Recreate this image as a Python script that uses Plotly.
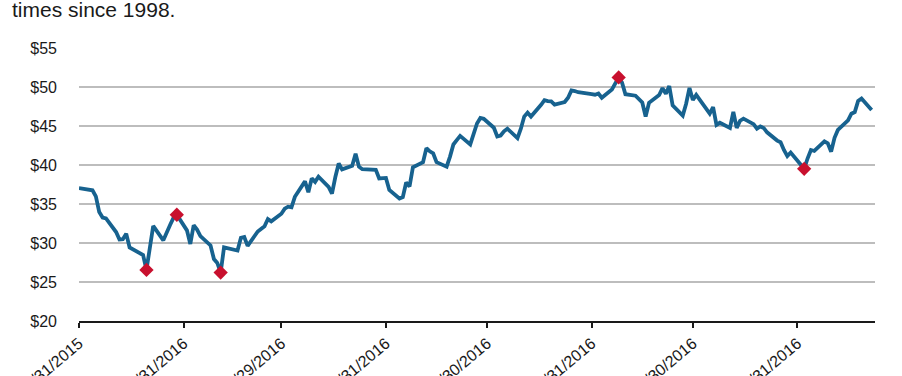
import plotly.graph_objects as go

dates = [
    "2015-12-31",
    "2016-01-04", "2016-01-05", "2016-01-06", "2016-01-07", "2016-01-08",
    "2016-01-11", "2016-01-12", "2016-01-13", "2016-01-14", "2016-01-15",
    "2016-01-19", "2016-01-20", "2016-01-21", "2016-01-22",
    "2016-01-25", "2016-01-26", "2016-01-27", "2016-01-28", "2016-01-29",
    "2016-02-01", "2016-02-02", "2016-02-03", "2016-02-04", "2016-02-05",
    "2016-02-08", "2016-02-09", "2016-02-10", "2016-02-11", "2016-02-12",
    "2016-02-16", "2016-02-17", "2016-02-18", "2016-02-19",
    "2016-02-22", "2016-02-23", "2016-02-24", "2016-02-25", "2016-02-26",
    "2016-02-29", "2016-03-01", "2016-03-02", "2016-03-03", "2016-03-04",
    "2016-03-07", "2016-03-08", "2016-03-09", "2016-03-10", "2016-03-11",
    "2016-03-14", "2016-03-15", "2016-03-16", "2016-03-17", "2016-03-18",
    "2016-03-21", "2016-03-22", "2016-03-23", "2016-03-24",
    "2016-03-28", "2016-03-29", "2016-03-30", "2016-03-31", "2016-04-01",
    "2016-04-04", "2016-04-05", "2016-04-06", "2016-04-07", "2016-04-08",
    "2016-04-11", "2016-04-12", "2016-04-13", "2016-04-14", "2016-04-15",
    "2016-04-18", "2016-04-19", "2016-04-20", "2016-04-21", "2016-04-22",
    "2016-04-25", "2016-04-26", "2016-04-27", "2016-04-28", "2016-04-29",
    "2016-05-02", "2016-05-03", "2016-05-04", "2016-05-05", "2016-05-06",
    "2016-05-09", "2016-05-10", "2016-05-11", "2016-05-12", "2016-05-13",
    "2016-05-16", "2016-05-17", "2016-05-18", "2016-05-19", "2016-05-20",
    "2016-05-23", "2016-05-24", "2016-05-25", "2016-05-26", "2016-05-27",
    "2016-05-31", "2016-06-01", "2016-06-02", "2016-06-03",
    "2016-06-06", "2016-06-07", "2016-06-08", "2016-06-09", "2016-06-10",
    "2016-06-13", "2016-06-14", "2016-06-15", "2016-06-16", "2016-06-17",
    "2016-06-20", "2016-06-21", "2016-06-22", "2016-06-23", "2016-06-24",
    "2016-06-27", "2016-06-28", "2016-06-29", "2016-06-30", "2016-07-01",
    "2016-07-05", "2016-07-06", "2016-07-07", "2016-07-08",
    "2016-07-11", "2016-07-12", "2016-07-13", "2016-07-14", "2016-07-15",
    "2016-07-18", "2016-07-19", "2016-07-20", "2016-07-21", "2016-07-22",
    "2016-07-25", "2016-07-26", "2016-07-27", "2016-07-28", "2016-07-29",
    "2016-08-01", "2016-08-02", "2016-08-03", "2016-08-04", "2016-08-05",
    "2016-08-08", "2016-08-09", "2016-08-10", "2016-08-11", "2016-08-12",
    "2016-08-15", "2016-08-16", "2016-08-17", "2016-08-18", "2016-08-19",
    "2016-08-22",
]

prices = [
    37.04,
    36.76, 35.97, 33.97, 33.27, 33.16,
    31.41, 30.44, 30.48, 31.20, 29.42,
    28.46, 26.55, 29.53, 32.19,
    30.34, 31.45, 32.30, 33.22, 33.62,
    31.62, 29.88, 32.28, 31.72, 30.89,
    29.69, 27.94, 27.45, 26.21, 29.44,
    29.04, 30.66, 30.77, 29.64,
    31.48, 31.87, 32.15, 33.07, 32.78,
    33.75, 34.40, 34.66, 34.57, 35.92,
    37.90, 36.50, 38.29, 37.84, 38.50,
    37.18, 36.34, 38.46, 40.20, 39.44,
    39.91, 41.45, 39.79, 39.46,
    39.39, 38.28, 38.32, 38.34, 36.79,
    35.70, 35.89, 37.75, 37.26, 39.72,
    40.36, 42.17, 41.76, 41.50, 40.36,
    39.78, 41.08, 42.63, 43.18, 43.73,
    42.64, 44.04, 45.33, 46.03, 45.92,
    44.78, 43.65, 43.78, 44.32, 44.66,
    43.44, 44.66, 46.21, 46.70, 46.21,
    47.72, 48.31, 48.19, 48.16, 47.75,
    48.08, 48.62, 49.56, 49.48, 49.33,
    49.10, 49.01, 49.17, 48.62,
    49.69, 50.36, 51.23, 50.56, 49.07,
    48.88, 48.49, 48.01, 46.21, 47.98,
    48.97, 49.85, 49.13, 50.11, 47.64,
    46.33, 47.85, 49.88, 48.33, 48.99,
    46.60, 47.43, 45.14, 45.41,
    44.76, 46.80, 44.75, 45.68, 45.95,
    45.24, 44.65, 44.94, 44.75, 44.19,
    43.13, 42.92, 41.92, 41.14, 41.60,
    40.06, 39.51, 40.83, 41.93, 41.80,
    43.02, 42.77, 41.71, 43.49, 44.49,
    45.72, 46.58, 46.79, 48.22, 48.52,
    47.05,
]

marker_dates = ["2016-01-20", "2016-01-29", "2016-02-11", "2016-06-08", "2016-08-02"]
marker_prices = [26.55, 33.62, 26.21, 51.23, 39.51]

tick_dates = ["2015-12-31", "2016-01-31", "2016-02-29", "2016-03-31",
              "2016-04-30", "2016-05-31", "2016-06-30", "2016-07-31"]
tick_labels = ["12/31/2015", "01/31/2016", "02/29/2016", "03/31/2016",
               "04/30/2016", "05/31/2016", "06/30/2016", "07/31/2016"]

y_ticks = [20, 25, 30, 35, 40, 45, 50, 55]
y_labels = ["$20", "$25", "$30", "$35", "$40", "$45", "$50", "$55"]

fig = go.Figure()
fig.add_trace(go.Scatter(
    x=dates, y=prices, mode="lines",
    line=dict(color="#17628f", width=3.8),
    showlegend=False, hoverinfo="skip",
))
fig.add_trace(go.Scatter(
    x=marker_dates, y=marker_prices, mode="markers",
    marker=dict(symbol="diamond", color="#c8102e", size=11,
                line=dict(width=0)),
    showlegend=False, hoverinfo="skip",
))

fig.update_layout(
    width=902, height=376,
    margin=dict(l=79, r=27, t=48, b=55),
    paper_bgcolor="white", plot_bgcolor="white",
    font=dict(family="Liberation Sans, Arial, sans-serif", size=15, color="#1a1a1a"),
    xaxis=dict(
        type="date",
        range=["2015-12-31", "2016-08-23"],
        tickvals=tick_dates, ticktext=tick_labels,
        tickangle=-40,
        showgrid=False, zeroline=False,
        showline=True, linecolor="#1a1a1a", linewidth=2,
        ticks="outside", ticklen=5, tickwidth=2, tickcolor="#1a1a1a",
        tickfont=dict(size=16),
        automargin=False,
    ),
    yaxis=dict(
        range=[20, 55],
        tickvals=y_ticks, ticktext=y_labels,
        showgrid=True, gridcolor="#bdbdbd", gridwidth=1.5,
        zeroline=False, showline=False,
        ticks="", ticklabelstandoff=21,
        tickfont=dict(size=16),
        automargin=False,
    ),
    annotations=[dict(
        text="times since 1998.", xref="paper", yref="paper",
        x=-0.087, y=1.141, xanchor="left", yanchor="middle",
        showarrow=False, font=dict(size=21, color="#1a1a1a"),
    )],
)

fig.write_html("out.html")
